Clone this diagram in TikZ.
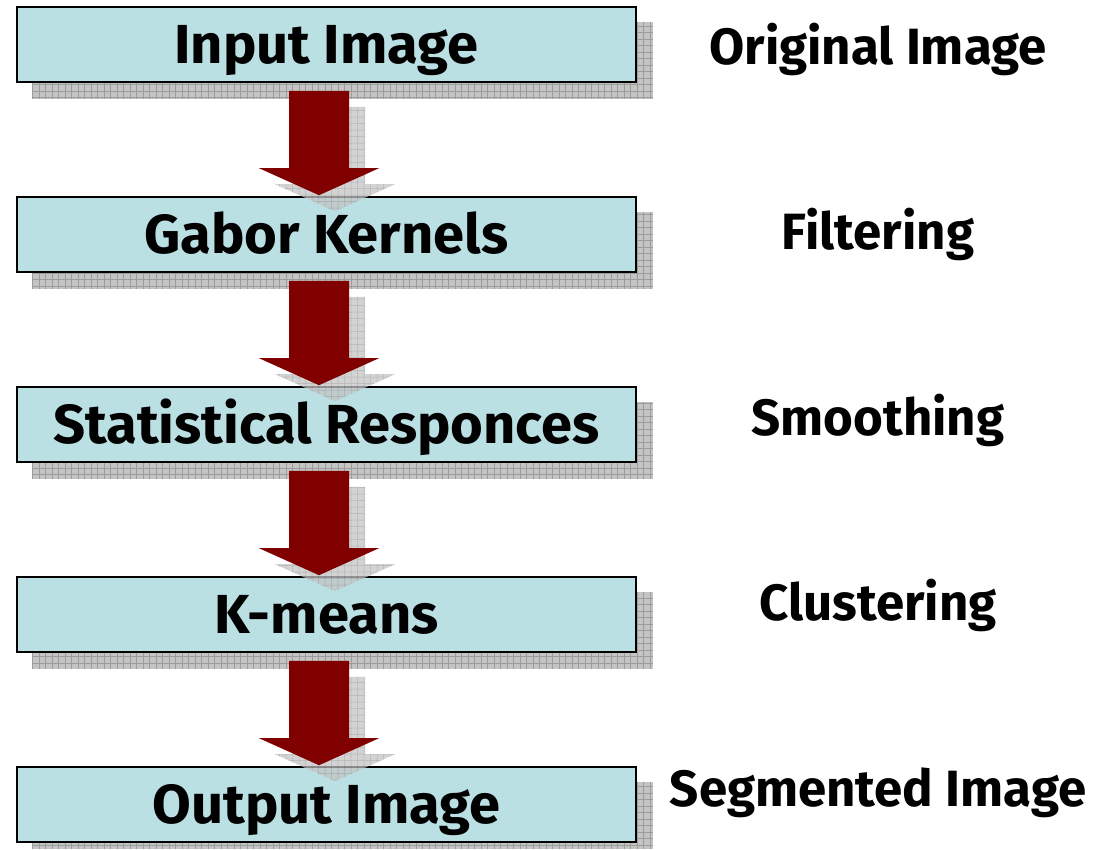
\documentclass[tikz,border=0pt]{standalone}
\usepackage{fontspec}
\setmainfont{Fira Sans}
\usetikzlibrary{calc}
\definecolor{boxfill}{HTML}{BBE0E3}
\definecolor{arrowred}{HTML}{800000}
\definecolor{shadowgray}{HTML}{C4C4C4}
\definecolor{gridgray}{HTML}{9C9C9C}
\pgfdeclarelayer{shadowlayer}
\pgfdeclarelayer{arrowshadow}
\pgfdeclarelayer{front}
\pgfsetlayers{shadowlayer,main,arrowshadow,front}

% arrow outline between two stage nodes, shifted by #3
\newcommand\arrowoutline[3]{%
  ($(#1.south)+(-37.5+#3,8+#3)$) -- ($(#1.south)+(22.5+#3,8+#3)$) --
  ($(#2.north)+(22.5+#3,-28+#3)$) -- ($(#2.north)+(52.5+#3,-28+#3)$) --
  ($(#2.north)+(-7.5+#3,-1+#3)$) -- ($(#2.north)+(-67.5+#3,-28+#3)$) --
  ($(#2.north)+(-37.5+#3,-28+#3)$) -- cycle}

\newcommand\gridfill[1]{%
  \begin{scope}
    \clip #1;
    \fill[shadowgray] (0,0) rectangle (1095,849);
    \draw[shadowgrid] (0,849) grid (1095,0);
  \end{scope}}

\newcommand\boxshadow[1]{%
  \gridfill{($(#1.north west)+(16,16)$) rectangle ($(#1.south east)+(16,16)$)}}

\newcommand\flowarrow[2]{%
  \begin{pgfonlayer}{arrowshadow}
    \begin{scope}[transparency group, opacity=0.75]
      \gridfill{\arrowoutline{#1}{#2}{16}}
    \end{scope}
  \end{pgfonlayer}
  \begin{pgfonlayer}{front}
    \fill[arrowfill] \arrowoutline{#1}{#2}{0};
  \end{pgfonlayer}}

\begin{document}
\begin{tikzpicture}[x=1pt,y=-1pt,
  stage/.style={draw=black, line width=1.6pt, fill=boxfill,
    minimum width=619pt, minimum height=75pt, inner sep=0pt,
    text height=37pt, text depth=0pt,
    font=\fontsize{55}{60}\selectfont\bfseries\addfontfeature{FakeStretch=1.02}},
  note/.style={anchor=base, inner sep=0pt,
    font=\fontsize{51}{60}\selectfont\bfseries},
  shadowgrid/.style={gridgray, line width=0.5pt, step=6.5pt},
  arrowfill/.style={fill=arrowred},
]
\useasboundingbox (0,0) rectangle (1095,849);

\node[stage] (b1) at (326.5,44.5)  {Input Image};
\node[stage] (b2) at (326.5,234.5) {Gabor Kernels};
\node[stage] (b3) at (326.5,424.5) {Statistical Responces};
\node[stage] (b4) at (326.5,614.5) {K-means};
\node[stage] (b5) at (326.5,804.5) {Output Image};

\begin{pgfonlayer}{shadowlayer}
  \boxshadow{b1}
  \boxshadow{b2}
  \boxshadow{b3}
  \boxshadow{b4}
  \boxshadow{b5}
\end{pgfonlayer}

\flowarrow{b1}{b2}
\flowarrow{b2}{b3}
\flowarrow{b3}{b4}
\flowarrow{b4}{b5}

\node[note] (l1) at (878,64)    {Original Image};
\node[note] (l2) at (878,249.5) {Filtering};
\node[note] (l3) at (878,435)   {Smoothing};
\node[note] (l4) at (878,620.5) {Clustering};
\node[note] (l5) at (878,806)   {Segmented Image};
\end{tikzpicture}
\end{document}
